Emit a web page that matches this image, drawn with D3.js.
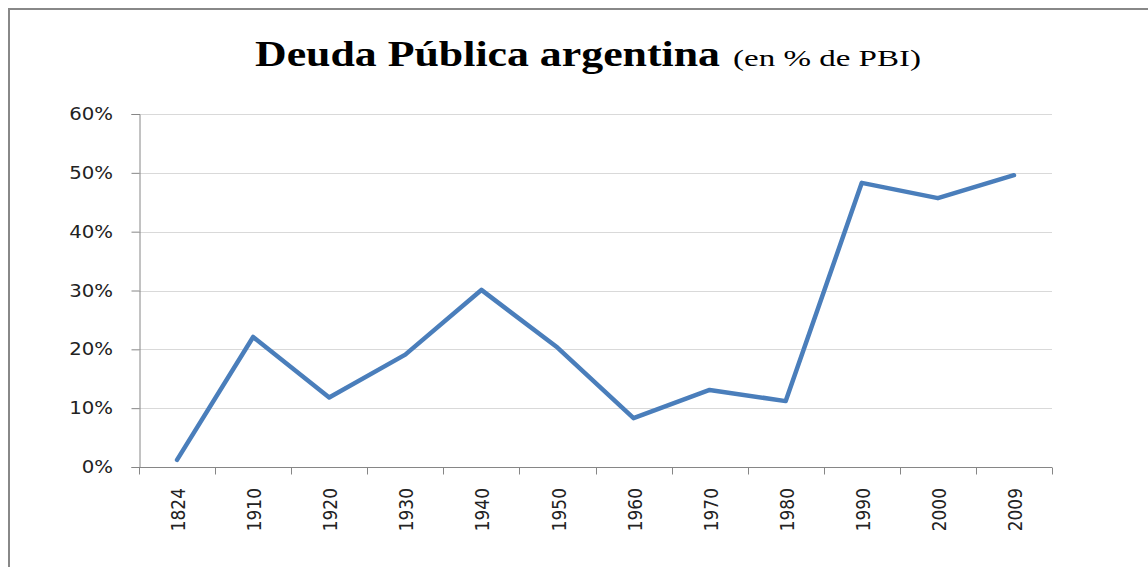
<!DOCTYPE html>
<html>
<head>
<meta charset="utf-8">
<script src="https://cdn.jsdelivr.net/npm/d3@7"></script>
<style>
  body { margin: 0; background: #fff; }
  svg { display: block; }
</style>
</head>
<body>
<div id="chart"></div>
<script>
// data
var years = ['1824', '1910', '1920', '1930', '1940', '1950', '1960', '1970', '1980', '1990', '2000', '2009'];
var deuda = [0.012, 0.221, 0.118, 0.191, 0.301, 0.203, 0.083, 0.131, 0.112, 0.483, 0.457, 0.496];
var yTicks = [0, 0.1, 0.2, 0.3, 0.4, 0.5, 0.6];

var width = 1148;
var height = 567;
var stretch = 1.16; // the picture is a bit wide, text looks stretched

var svg = d3.select('#chart').append('svg')
    .attr('width', width)
    .attr('height', height);

// outer frame, it runs off the right and bottom of the picture
svg.append('rect')
    .attr('x', 9)
    .attr('y', 9)
    .attr('width', 1300)
    .attr('height', 700)
    .attr('fill', '#fff')
    .attr('stroke', '#888')
    .attr('stroke-width', 2);

var x = d3.scaleBand()
    .domain(years)
    .range([139, 1052])
    .padding(0);

var y = d3.scaleLinear()
    .domain([0, 0.6])
    .range([467, 114]);

// gridlines
svg.append('g').selectAll('line')
    .data(yTicks.slice(1))
    .enter().append('line')
    .attr('x1', 139)
    .attr('x2', 1052)
    .attr('y1', function(d) { return Math.round(y(d)) + 0.5; })
    .attr('y2', function(d) { return Math.round(y(d)) + 0.5; })
    .attr('stroke', '#d9d9d9')
    .attr('stroke-width', 1);

// y axis
var yAxis = svg.append('g')
    .attr('transform', 'translate(139.5,0)')
    .call(d3.axisLeft(y).tickValues(yTicks).tickSize(8).tickFormat(''));
yAxis.select('.domain').attr('stroke', '#868686');
yAxis.selectAll('.tick line').attr('stroke', '#868686');

svg.append('g').selectAll('text')
    .data(yTicks)
    .enter().append('text')
    .attr('transform', function(d) { return 'translate(113,' + y(d) + ') scale(' + stretch + ',1)'; })
    .attr('text-anchor', 'end')
    .attr('dy', '0.36em')
    .attr('font-family', 'DejaVu Sans, sans-serif')
    .attr('font-size', 17)
    .attr('fill', '#222')
    .text(d3.format('.0%'));

// x axis, ticks sit between the categories
var xAxis = svg.append('g')
    .attr('transform', 'translate(0,467.5)');
xAxis.append('line')
    .attr('x1', 139)
    .attr('x2', 1052)
    .attr('stroke', '#868686');
xAxis.selectAll('.xtick')
    .data(years.concat(['end']))
    .enter().append('line')
    .attr('class', 'xtick')
    .attr('x1', function(d, i) { return Math.round(i < years.length ? x(d) : x.range()[1]) + 0.5; })
    .attr('x2', function(d, i) { return Math.round(i < years.length ? x(d) : x.range()[1]) + 0.5; })
    .attr('y1', 0)
    .attr('y2', 7)
    .attr('stroke', '#868686');

svg.append('g').selectAll('text')
    .data(years)
    .enter().append('text')
    .attr('transform', function(d) {
      return 'translate(' + (x(d) + x.bandwidth() / 2 + 1) + ',488) scale(' + stretch + ',1) rotate(-90)';
    })
    .attr('text-anchor', 'end')
    .attr('dy', '0.36em')
    .attr('font-family', 'DejaVu Sans, sans-serif')
    .attr('font-size', 17)
    .attr('fill', '#222')
    .text(function(d) { return d; });

// the series
var line = d3.line()
    .x(function(d, i) { return x(years[i]) + x.bandwidth() / 2; })
    .y(function(d) { return y(d); });

svg.append('path')
    .datum(deuda)
    .attr('d', line)
    .attr('fill', 'none')
    .attr('stroke', '#4a7ebb')
    .attr('stroke-width', 4.5)
    .attr('stroke-linejoin', 'round')
    .attr('stroke-linecap', 'round');

// title, the two parts are squeezed to the widths in the picture
svg.append('text')
    .attr('x', 255)
    .attr('y', 66)
    .attr('font-family', 'Liberation Serif, Times New Roman, serif')
    .attr('font-size', 36)
    .attr('font-weight', 'bold')
    .attr('textLength', 465)
    .attr('lengthAdjust', 'spacingAndGlyphs')
    .attr('fill', '#000')
    .text('Deuda Pública argentina');
svg.append('text')
    .attr('x', 733)
    .attr('y', 66)
    .attr('font-family', 'Liberation Serif, Times New Roman, serif')
    .attr('font-size', 23)
    .attr('textLength', 188)
    .attr('lengthAdjust', 'spacingAndGlyphs')
    .attr('fill', '#000')
    .text('(en % de PBI)');
</script>
</body>
</html>
